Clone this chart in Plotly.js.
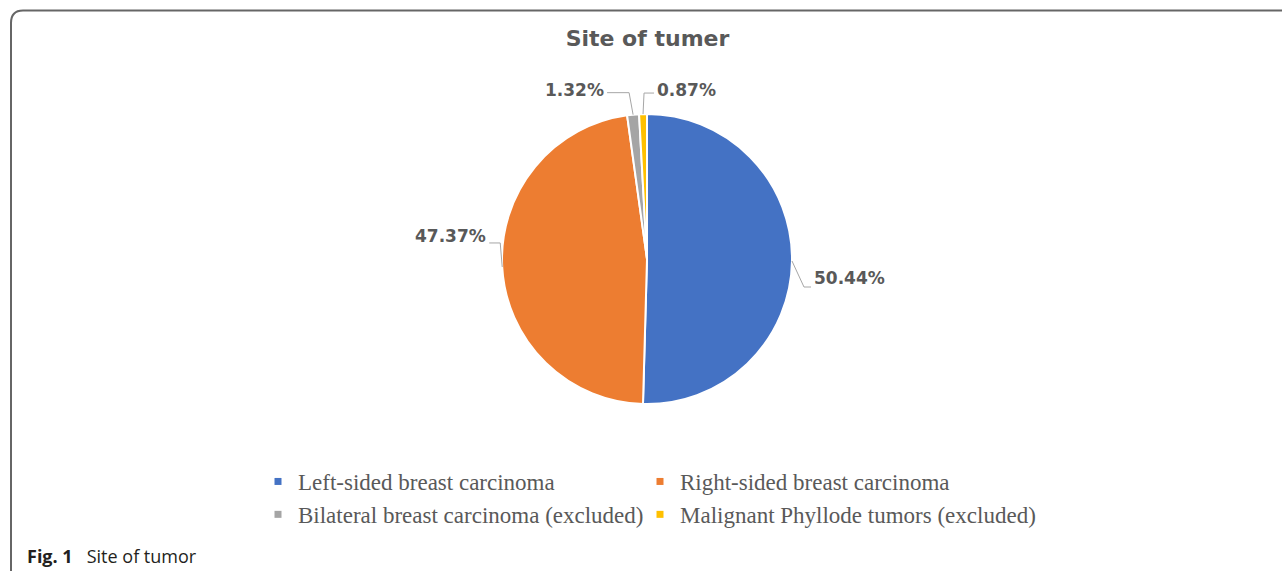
<!DOCTYPE html>
<html>
<head>
<meta charset="utf-8">
<script src="https://cdn.plot.ly/plotly-3.0.1.min.js"></script>
<style>html,body{margin:0;padding:0;background:#fff;}#chart{width:1282px;height:573px;}</style>
</head>
<body>
<div id="chart"></div>
<script>
// ---- data ----
const categories = [
  'Left-sided breast carcinoma',
  'Right-sided breast carcinoma',
  'Bilateral breast carcinoma (excluded)',
  'Malignant Phyllode tumors (excluded)'
];
const percentValues = [50.44, 47.37, 1.32, 0.87];
const sliceColors = ['#4472C4', '#ED7D31', '#A5A5A5', '#FFC000'];
const chartTitle = 'Site of tumer';
const captionBold = 'Fig. 1';
const captionText = 'Site of tumor';

// ---- layout geometry (pixels) ----
const W = 1282, H = 573;
const M = {l: 100, r: 100, t: 0, b: 0};
const gsw = W - M.l - M.r, gsh = H - M.t - M.b;
const px2x = p => (p - M.l) / gsw;
const py2y = p => 1 - (p - M.t) / gsh;
const pie = {cx: 647, cy: 259, r: 145};

// label leader style per slice (pixel offsets from slice edge point)
const labelStyle = [
  {elbow: [12, 26], run: 7, side: 'left', dy: -9},
  {elbow: [-2, -24], run: -11, side: 'right', dy: -7},
  {elbow: [-4, -22], run: -22, side: 'right', dy: -3},
  {elbow: [1, -21], run: 10, side: 'left', dy: -3}
];

const total = percentValues.reduce((a, b) => a + b, 0);
let cum = 0;
const shapes = [];
const annotations = [];
percentValues.forEach((v, i) => {
  const th = 2 * Math.PI * (cum + v / 2) / total;
  cum += v;
  const ex = pie.cx + pie.r * Math.sin(th);
  const ey = pie.cy - pie.r * Math.cos(th);
  const st = labelStyle[i];
  const bx = ex + st.elbow[0], by = ey + st.elbow[1];
  const fx = bx + st.run;
  shapes.push({
    type: 'path', xref: 'paper', yref: 'paper', layer: 'above',
    path: `M${px2x(ex)},${py2y(ey)} L${px2x(bx)},${py2y(by)} L${px2x(fx)},${py2y(by)}`,
    line: {color: '#A6A6A6', width: 1}
  });
  annotations.push({
    xref: 'paper', yref: 'paper',
    x: px2x(fx + (st.side === 'left' ? 1 : -1)), y: py2y(by + st.dy),
    xanchor: st.side, yanchor: 'middle', showarrow: false,
    text: v.toFixed(2) + '%',
    font: {family: 'DejaVu Sans', size: 17, color: '#595959', weight: 'bold'}
  });
});

// frame border (top + left with rounded corner)
shapes.push({
  type: 'path', xref: 'paper', yref: 'paper', layer: 'below',
  path: `M${px2x(11)},${py2y(571)} L${px2x(11)},${py2y(23)} Q${px2x(11)},${py2y(10.5)} ${px2x(23)},${py2y(10.5)} L${px2x(1290)},${py2y(10.5)}`,
  line: {color: '#666666', width: 2}
});

// caption
annotations.push({
  xref: 'paper', yref: 'paper', x: px2x(25), y: py2y(556),
  xanchor: 'left', yanchor: 'middle', showarrow: false,
  text: '<b>' + captionBold + '</b>&nbsp;&nbsp;&nbsp;' + captionText,
  font: {family: 'Open Sans', size: 18, color: '#231F20'}
});

const trace = {
  type: 'pie',
  labels: categories,
  values: percentValues,
  sort: false,
  direction: 'clockwise',
  rotation: 0,
  textinfo: 'none',
  hoverinfo: 'label+percent',
  marker: {colors: sliceColors, line: {color: '#FFFFFF', width: 2}},
  domain: {
    x: [px2x(pie.cx - pie.r), px2x(pie.cx + pie.r)],
    y: [py2y(pie.cy + pie.r), py2y(pie.cy - pie.r)]
  }
};

const layout = {
  width: W, height: H,
  margin: M,
  paper_bgcolor: '#FFFFFF',
  plot_bgcolor: '#FFFFFF',
  title: {
    text: chartTitle,
    font: {family: 'DejaVu Sans', size: 22, color: '#595959', weight: 'bold'},
    xref: 'paper', x: px2x(647.5), xanchor: 'center',
    yref: 'container', y: 1 - 38 / H, yanchor: 'middle'
  },
  showlegend: true,
  legend: {
    orientation: 'h',
    x: px2x(258), xanchor: 'left',
    y: py2y(460), yanchor: 'top',
    entrywidth: 337, entrywidthmode: 'pixels',
    traceorder: 'normal',
    bgcolor: 'rgba(0,0,0,0)',
    font: {family: 'Liberation Serif', size: 23, color: '#595959'}
  },
  shapes: shapes,
  annotations: annotations
};

Plotly.newPlot('chart', [trace], layout, {displayModeBar: false, staticPlot: true}).then(gd => {
  // let the long last legend entry show in full and use small square keys
  gd.querySelectorAll('.legend .scrollbox').forEach(el => el.removeAttribute('clip-path'));
  gd.querySelectorAll('.legend .legendpoints path').forEach(el => {
    el.setAttribute('d', 'M3.5,3.5H-3.5V-3.5H3.5Z');
    el.style.strokeWidth = '0px';
  });
});
</script>
</body>
</html>
